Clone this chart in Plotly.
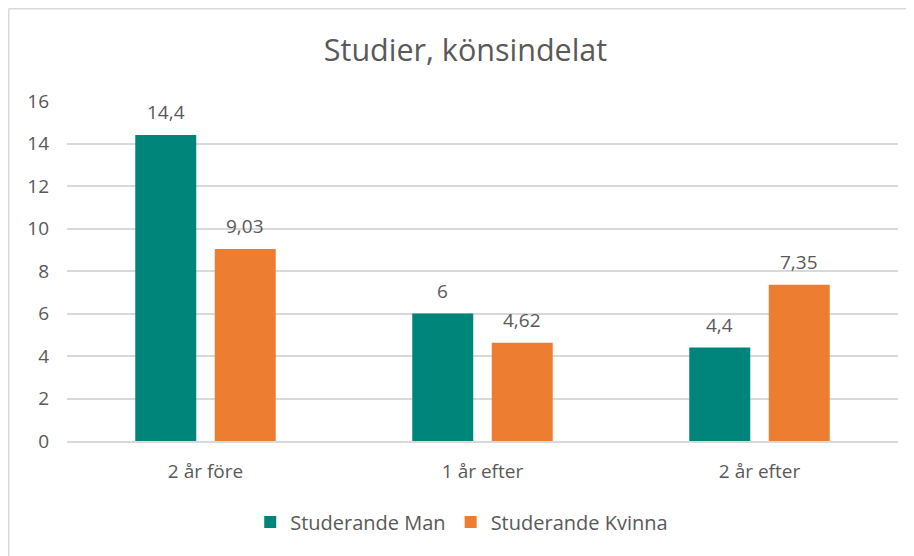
import plotly.graph_objects as go

categories = ["2 år före", "1 år efter", "2 år efter"]
man_values = [14.4, 6, 4.4]
kvinna_values = [9.03, 4.62, 7.35]
man_labels = ["14,4", "6", "4,4"]
kvinna_labels = ["9,03", "4,62", "7,35"]
y_ticks = [0, 2, 4, 6, 8, 10, 12, 14, 16]

FONT = "Open Sans, Roboto, Arial, sans-serif"
GREY = "#595959"
FS = 19

# layout geometry (figure is placed with 8px page margin)
L, T, PW, PH = 59, 93, 831, 340
R = 914 - L - PW
B = 556 - T - PH

fig = go.Figure()
fig.add_bar(x=categories, y=man_values, name="Studerande Man",
            marker_color="#00857A", marker_line_width=0)
fig.add_bar(x=categories, y=kvinna_values, name="Studerande Kvinna",
            marker_color="#ED7D31", marker_line_width=0)

annotations = []
slot = PW / 3 * (1 - 0.426) / 2
for cat, v, lab in zip(categories, man_values, man_labels):
    annotations.append(dict(x=cat, y=v, text=lab, showarrow=False, xshift=-slot / 2,
                            yshift=23, yanchor="middle",
                            font=dict(size=FS, color=GREY, family=FONT)))
for cat, v, lab in zip(categories, kvinna_values, kvinna_labels):
    annotations.append(dict(x=cat, y=v, text=lab, showarrow=False, xshift=slot / 2,
                            yshift=23, yanchor="middle",
                            font=dict(size=FS, color=GREY, family=FONT)))

bx = (0.75 - L) / PW
by = 1 + (T - 0.75) / PH

fig.update_layout(
    width=914, height=556,
    margin=dict(l=L, r=R, t=T, b=B),
    paper_bgcolor="white", plot_bgcolor="white",
    font=dict(family=FONT, color=GREY, size=FS),
    title=dict(text="Studier, könsindelat", x=(L + PW / 2 - 17) / 914, xanchor="center",
               y=1 - 42 / 556, yanchor="middle",
               font=dict(size=30.5, color=GREY, family=FONT)),
    barmode="group", bargap=0.426, bargroupgap=0.233,
    legend=dict(orientation="h", x=0.475, xanchor="center", y=(433 - 514) / PH,
                yanchor="middle",
                font=dict(size=20, color=GREY, family=FONT), itemwidth=30,
                traceorder="normal"),
    annotations=annotations,
    xaxis=dict(showgrid=False, showline=True, linecolor="#D9D9D9", linewidth=2,
               ticks="", tickfont=dict(size=FS, color=GREY), ticklabelstandoff=12),
    yaxis=dict(range=[0, 16], tickvals=y_ticks, showgrid=True, gridcolor="#D9D9D9",
               gridwidth=1.5, zeroline=False, showline=False, ticks="",
               tickfont=dict(size=FS, color=GREY), ticklabelstandoff=17),
    shapes=[
        dict(type="line", xref="paper", yref="paper", x0=bx, x1=1.2, y0=by, y1=by,
             line=dict(color="#D9D9D9", width=1.5)),
        dict(type="line", xref="paper", yref="paper", x0=bx, x1=bx, y0=-0.5, y1=by,
             line=dict(color="#D9D9D9", width=1.5)),
    ],
)

fig.write_html("out.html")
